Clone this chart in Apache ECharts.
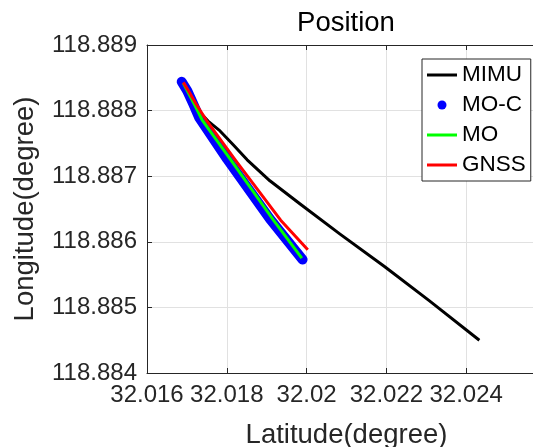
<!DOCTYPE html>
<html>
<head>
<meta charset="utf-8">
<script src="https://cdn.jsdelivr.net/npm/echarts@6/dist/echarts.min.js"></script>
<style>html,body{margin:0;padding:0;background:#fff}#c{width:533px;height:447px}</style>
</head>
<body>
<div id="c"></div>
<script>
// ---- data ----
const seriesNames = ['MIMU', 'MO-C', 'MO', 'GNSS'];

const mimuLat = [32.01691, 32.01706, 32.01721, 32.01736, 32.01753, 32.01783, 32.01816, 32.01851, 32.01908, 32.01983, 32.02083, 32.02196, 32.02308, 32.02433];
const mimuLon = [118.88842, 118.88827, 118.88810, 118.88795, 118.88784, 118.88769, 118.88748, 118.88725, 118.88693, 118.88658, 118.88612, 118.88562, 118.88510, 118.88450];

const mocLat = [32.01687, 32.01701, 32.01716, 32.01731, 32.01801, 32.01908, 32.01990];
const mocLon = [118.88844, 118.88830, 118.88810, 118.88789, 118.88726, 118.88635, 118.88573];

const moLat = [32.01691, 32.01703, 32.01721, 32.01738, 32.01810, 32.01917, 32.01988];
const moLon = [118.88842, 118.88828, 118.88807, 118.88786, 118.88725, 118.88633, 118.88575];

const gnssLat = [32.01691, 32.01706, 32.01723, 32.01748, 32.01821, 32.01935, 32.02003];
const gnssLon = [118.88843, 118.88828, 118.88810, 118.88786, 118.88725, 118.88633, 118.88588];

const xTickLabels = ['32.016', '32.018', '32.02', '32.022', '32.024'];
const yTickLabels = ['118.884', '118.885', '118.886', '118.887', '118.888', '118.889'];
const xMin = 32.016, xMax = 32.026, xStep = 0.002;
const yMin = 118.884, yMax = 118.889, yStep = 0.001;

// ---- build ----
const pairs = (a, b) => a.map((v, i) => [v, b[i]]);
const FONT = '"Liberation Sans", Arial, sans-serif';
const AX = '#262626';
const lineIcon = 'path://M0,0H30V3H0Z';

function tickFmt(labels) {
  return function (v) {
    for (const s of labels) { if (Math.abs(parseFloat(s) - v) < 1e-7) return s; }
    return '';
  };
}

const chart = echarts.init(document.getElementById('c'), null, {renderer: 'canvas', devicePixelRatio: 1});

const axisCommon = {
  axisLine: {show: true, lineStyle: {color: AX, width: 1}},
  axisTick: {show: true, inside: true, length: 5, lineStyle: {color: AX, width: 1}},
};

chart.setOption({
  animation: false,
  backgroundColor: '#fff',
  title: {
    text: 'Position',
    left: 346,
    top: 9,
    padding: 0,
    textAlign: 'center',
    textStyle: {fontFamily: FONT, fontSize: 27.5, fontWeight: 'normal', color: '#000'}
  },
  grid: {left: 147, top: 45, right: -13, bottom: 74, containLabel: false, outerBoundsMode: 'none'},
  legend: {
    orient: 'vertical',
    left: 422,
    top: 59,
    padding: [4, 5, 4, 5],
    itemWidth: 30,
    itemHeight: 9,
    itemGap: 6,
    backgroundColor: '#fff',
    borderColor: AX,
    borderWidth: 1,
    borderRadius: 0,
    textStyle: {fontFamily: FONT, fontSize: 22.5, lineHeight: 24, color: '#000'},
    data: [
      {name: seriesNames[0], icon: lineIcon},
      {name: seriesNames[1], icon: 'circle'},
      {name: seriesNames[2], icon: lineIcon},
      {name: seriesNames[3], icon: lineIcon}
    ]
  },
  xAxis: [
    Object.assign({
      type: 'value', position: 'bottom', min: xMin, max: xMax, interval: xStep,
      name: 'Latitude(degree)', nameLocation: 'middle', nameGap: 48,
      nameTextStyle: {fontFamily: FONT, fontSize: 27.5, color: AX},
      axisLabel: {formatter: tickFmt(xTickLabels), fontFamily: FONT, fontSize: 24, color: AX, margin: 10, showMaxLabel: false},
      splitLine: {show: true, lineStyle: {color: '#e1e1e1', width: 1}}
    }, axisCommon),
    Object.assign({
      type: 'value', position: 'top', min: xMin, max: xMax, interval: xStep,
      axisLabel: {show: false}, splitLine: {show: false}
    }, axisCommon)
  ],
  yAxis: [
    Object.assign({
      type: 'value', min: yMin, max: yMax, interval: yStep,
      name: 'Longitude(degree)', nameLocation: 'middle', nameGap: 108, nameRotate: 90,
      nameTextStyle: {fontFamily: FONT, fontSize: 27.5, color: AX},
      axisLabel: {formatter: tickFmt(yTickLabels), fontFamily: FONT, fontSize: 24, color: AX, margin: 10},
      splitLine: {show: true, lineStyle: {color: '#e1e1e1', width: 1}}
    }, axisCommon)
  ],
  series: [
    {
      name: seriesNames[0], type: 'line', data: pairs(mimuLat, mimuLon),
      symbol: 'none', smooth: false, color: '#000',
      lineStyle: {color: '#000', width: 3, join: 'round'}, itemStyle: {color: '#000'}, z: 2
    },
    {
      name: seriesNames[1], type: 'line', data: pairs(mocLat, mocLon),
      symbol: 'none', smooth: false, color: '#0000ff',
      lineStyle: {color: '#0000ff', width: 10, cap: 'round', join: 'round'}, itemStyle: {color: '#0000ff'}, z: 3
    },
    {
      name: seriesNames[2], type: 'line', data: pairs(moLat, moLon),
      symbol: 'none', smooth: false, color: '#00ff00',
      lineStyle: {color: '#00ff00', width: 3, join: 'round'}, itemStyle: {color: '#00ff00'}, z: 4
    },
    {
      name: seriesNames[3], type: 'line', data: pairs(gnssLat, gnssLon),
      symbol: 'none', smooth: false, color: '#ff0000',
      lineStyle: {color: '#ff0000', width: 3, join: 'round'}, itemStyle: {color: '#ff0000'}, z: 5
    }
  ]
});
</script>
</body>
</html>
